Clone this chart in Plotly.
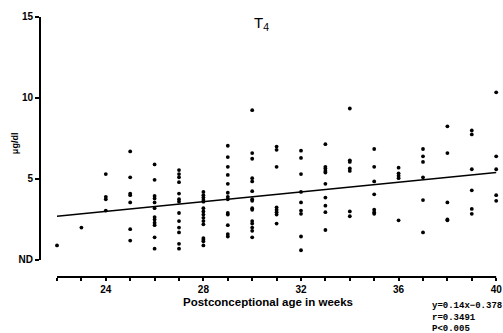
import plotly.graph_objects as go

# Data (T4, ug/dl, by postconceptional week)
weeks = [22, 23, 24, 25, 26, 27, 28, 29, 30, 31, 32, 33, 34, 35, 36, 37, 38, 39, 40]
t4_values = [
    [0.9],
    [2.0],
    [5.3, 3.9, 3.75, 3.05],
    [6.7, 5.1, 4.1, 4.0, 3.55, 1.9, 1.2],
    [5.9, 4.95, 3.95, 3.8, 3.55, 3.2, 2.65, 2.5, 2.3, 2.15, 1.4, 0.7],
    [5.55, 5.3, 5.1, 4.8, 4.1, 3.75, 3.6, 2.9, 2.4, 2.0, 1.7, 1.0, 0.7],
    [4.2, 4.0, 3.85, 3.7, 3.6, 3.2, 3.0, 2.8, 2.6, 2.4, 2.2, 1.35, 1.25, 1.15, 0.9],
    [7.05, 6.35, 5.75, 5.25, 4.7, 4.15, 3.9, 3.75, 2.9, 2.8, 2.15, 1.6, 1.45],
    [9.25, 6.6, 6.25, 5.05, 4.85, 4.25, 3.75, 3.65, 3.2, 3.1, 2.4, 2.25, 2.0, 1.8, 1.4],
    [7.0, 6.8, 5.75, 3.25, 3.1, 2.95, 2.8, 2.25],
    [6.75, 6.3, 5.3, 4.2, 3.55, 3.05, 2.85, 1.45, 0.6],
    [7.15, 5.75, 5.65, 5.5, 5.4, 4.7, 3.85, 3.35, 2.95, 1.85],
    [9.35, 6.15, 6.05, 5.65, 5.5, 3.0, 2.7],
    [6.85, 5.75, 4.85, 4.05, 3.1, 2.95, 2.85],
    [5.7, 5.35, 5.2, 5.05, 2.45],
    [6.85, 6.4, 6.05, 5.1, 3.7, 1.7],
    [8.25, 6.6, 3.55, 2.5, 2.45],
    [8.0, 7.75, 5.6, 4.3, 3.15, 2.85],
    [10.35, 6.4, 5.6, 4.0, 3.65],
]
line_x = [22, 40]
line_y = [2.7, 5.4]

x_tickvals = [24, 28, 32, 36, 40]
x_ticktext = ["24", "28", "32", "36", "40"]
x_axis_span = [22, 40]
y_tickvals = [0, 5, 10, 15]
y_ticktext = ["ND", "5", "10", "15"]
stats_lines = ["y=0.14x\u22120.378", "r=0.3491", "P<0.005"]

x_range = [21.303, 40.156]
y_range = [-1.05, 15.43]

xs, ys = [], []
for w, vals in zip(weeks, t4_values):
    for v in vals:
        xs.append(w)
        ys.append(v)


def to_paper_x(v):
    return (v - x_range[0]) / (x_range[1] - x_range[0])


def to_paper_y(v):
    return (v - y_range[0]) / (y_range[1] - y_range[0])


fig = go.Figure()
fig.add_trace(go.Scatter(x=xs, y=ys, mode="markers",
                         marker=dict(color="black", size=3.8), showlegend=False))
fig.add_trace(go.Scatter(x=line_x, y=line_y, mode="lines",
                         line=dict(color="black", width=1.6), showlegend=False))

font_main = "Liberation Sans, Arial, sans-serif"

fig.update_layout(
    width=503, height=333,
    margin=dict(l=40, r=3, t=10, b=56, autoexpand=False),
    paper_bgcolor="white", plot_bgcolor="white",
    xaxis=dict(range=x_range, showgrid=False, zeroline=False, showline=False,
               tickmode="array", tickvals=x_tickvals, ticktext=x_ticktext,
               ticks="outside", ticklen=3, tickwidth=1.5, tickcolor="black",
               minor=dict(ticks="outside", tick0=x_axis_span[0], dtick=1, ticklen=3,
                          tickwidth=1.5, tickcolor="black", showgrid=False),
               tickfont=dict(family=font_main, size=10, color="black", weight="bold")),
    yaxis=dict(range=y_range, showgrid=False, zeroline=False, showline=False,
               tickmode="array", tickvals=y_tickvals, ticktext=y_ticktext,
               ticks="outside", ticklen=4, tickwidth=1.5, tickcolor="black",
               tickfont=dict(family=font_main, size=10, color="black", weight="bold")),
    shapes=[
        dict(type="line", xref="paper", x0=0, x1=0, yref="paper",
             y0=to_paper_y(y_tickvals[0]), y1=to_paper_y(y_tickvals[-1]),
             line=dict(color="black", width=2)),
        dict(type="line", xref="paper", x0=to_paper_x(x_axis_span[0]),
             x1=to_paper_x(x_axis_span[1]), yref="paper", y0=0, y1=0,
             line=dict(color="black", width=2)),
    ],
    annotations=[
        dict(text="T<sub>4</sub>", xref="paper", yref="paper", x=0.482, y=0.951,
             xanchor="center", yanchor="middle",
             showarrow=False, font=dict(family=font_main, size=15, color="black")),
        dict(text="Postconceptional age in weeks", xref="paper", yref="paper",
             x=0.496, y=-0.094, xanchor="center", yanchor="middle", showarrow=False,
             font=dict(family=font_main, size=11.5, color="black", weight="bold")),
        dict(text="\u03bcg/dl", xref="paper", yref="paper", x=-0.054, y=0.502,
             xanchor="center", yanchor="middle",
             textangle=-90, showarrow=False,
             font=dict(family=font_main, size=9, color="black", weight="bold")),
        dict(text="<br>".join(stats_lines), xref="paper", yref="paper",
             x=0.848, y=-0.083, xanchor="left", yanchor="top", align="left",
             showarrow=False,
             font=dict(family="Liberation Mono, monospace", size=9, color="black",
                       weight="bold")),
    ],
)

fig.write_html("out.html", post_script="document.body.style.margin='0px';",
               config={"displayModeBar": False})
